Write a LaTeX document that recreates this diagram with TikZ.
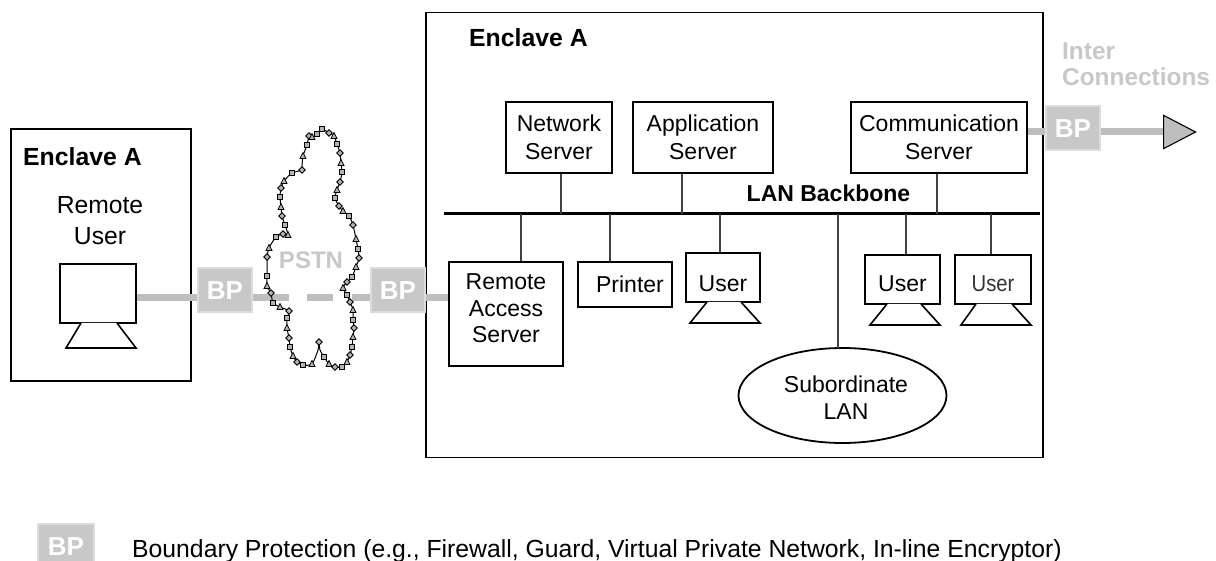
\documentclass[tikz,border=0pt]{standalone}
\usepackage{fontspec}
\setmainfont{Liberation Sans}
\usetikzlibrary{shapes.geometric}
\definecolor{bpgray}{HTML}{C8C8C8}
\definecolor{bpedge}{HTML}{DCDCDC}
\definecolor{linkgray}{HTML}{BEBEBE}
\tikzset{
  txt/.style={font=\fontsize{23}{27.5}\selectfont,align=center,inner sep=0pt},
  ltxt/.style={font=\fontsize{24.7}{31}\selectfont,align=center,inner sep=0pt},
  btxt/.style={font=\fontsize{23}{28}\selectfont\bfseries,inner sep=0pt,align=left},
  etxt/.style={font=\fontsize{24.8}{28}\selectfont\bfseries,inner sep=0pt},
  srv/.style={draw=black,line width=2pt,fill=white,inner sep=0pt,txt},
  mon/.style={draw=black,line width=1.8pt,fill=white,inner sep=0pt,txt},
  foot/.style={draw=black,line width=1.6pt,fill=white,line join=miter},
  encl/.style={draw=black,line width=1.1pt,inner sep=0pt},
  bpbox/.style={draw=bpedge,line width=2pt,fill=bpgray,text=white,inner sep=0pt,
    font=\fontsize{26}{30}\selectfont\bfseries,minimum width=54pt,minimum height=44pt},
  glink/.style={draw=linkgray,line width=7pt},
  tap/.style={draw=black!75,line width=1.3pt},
  bb/.style={draw=black,line width=3pt},
  cmark/.style={draw=black,fill=gray!60,line width=.8pt}
}
\begin{document}
\begin{tikzpicture}[x=1pt,y=-1pt]
\useasboundingbox (0,0) rectangle (1216,561);
% enclosures
\node[encl,minimum width=180pt,minimum height=252pt] (encL) at (101,255) {};
\node[encl,minimum width=617pt,minimum height=445pt] (encB) at (734.5,235) {};
% grey links
\coordinate (d1a) at (289,298);
\coordinate (d2a) at (307,298);
\coordinate (d2b) at (333,298);
\coordinate (d3a) at (352,298);
\node[mon,minimum width=76pt,minimum height=59pt] (ruser) at (98,293.5) {};
\draw[foot] (81,323) -- (66,348) -- (136,348) -- (117,323);
\node[bpbox] (bp1) at (225,290.5) {BP};
\node[bpbox] (bp2) at (398,290.5) {BP};
\node[bpbox] (bp3) at (1073,128.5) {BP};
\node[srv,minimum width=114pt,minimum height=104pt] (ras) at (506,314) {};
\node[txt] (rastxt) at (506,308) {Remote\\[-.5pt]Access\\[-2pt]Server};
\node[srv,minimum width=94pt,minimum height=45pt] (prn) at (625,284.5) {\hspace*{10pt}Printer};
\node[srv,minimum width=106pt,minimum height=71pt] (net) at (559,137.5) {Network\\Server};
\node[srv,minimum width=140pt,minimum height=71pt] (app) at (703,137.5) {Application\\Server};
\node[srv,minimum width=176pt,minimum height=71pt] (com) at (939,137.5) {Communication\\Server};
\node[mon,minimum width=74pt,minimum height=49pt] (u1) at (723,277.5) {\raisebox{-14.5pt}[0pt][0pt]{User}};
\draw[foot] (707,302) -- (690,323) -- (760,323) -- (741,302);
\node[mon,minimum width=75pt,minimum height=49pt] (u2) at (902.5,279.5) {\raisebox{-12.5pt}[0pt][0pt]{User}};
\draw[foot] (887,304) -- (870,325) -- (940,325) -- (921,304);
\node[mon,minimum width=76pt,minimum height=49pt] (u3) at (993,279.5) {\raisebox{-12.5pt}[0pt][0pt]{\color{black!80}\scalebox{.88}[1]{User}}};
\draw[foot] (976,304) -- (961,325) -- (1031,325) -- (1012,304);
\node[draw=black,line width=1.8pt,ellipse,inner sep=0pt,minimum width=208pt,minimum height=95pt] (sub) at (842.5,395.5) {};
\node[txt] (subtxt) at (846,397.5) {Subordinate\\LAN};
% backbone
\coordinate (bbW) at (444,214);
\coordinate (bbE) at (1040,214);
\draw[bb] (bbW) -- (bbE);
\foreach \n/\x in {net/561,app/682,com/937}{
  \coordinate (t\n) at (\x,214);
  \draw[tap] (t\n) -- (t\n |- \n.south);
}
\foreach \n/\x in {ras/521,prn/610,u1/720,u2/906,u3/991}{
  \coordinate (t\n) at (\x,214);
  \draw[tap] (t\n) -- (t\n |- \n.north);
}
\coordinate (tsub) at (838,214);
\coordinate (tsubE) at (838,348);
\draw[tap] (tsub) -- (tsubE);
\draw[glink] (ruser.east |- 0,298) -- (bp1.west |- 0,298);
\draw[glink] (bp1.east |- 0,298) -- (d1a);
\draw[glink] (d2a) -- (d2b);
\draw[glink] (d3a) -- (bp2.west |- 0,298);
\draw[glink] (bp2.east |- 0,298) -- (ras.west |- 0,298);
\draw[glink] (com.east |- 0,132) -- (bp3.west |- 0,132);
\node[draw=black,line width=1.1pt,fill=linkgray,isosceles triangle,isosceles triangle apex angle=55,inner sep=0pt,minimum height=32pt,minimum width=33pt,anchor=west] (tip) at (1163,132) {};
\draw[glink] (bp3.east |- 0,132) -- (tip.west);
% cloud
\draw[black,line width=1pt] plot[smooth cycle,tension=.45] coordinates {
(322,129)(329,133)(334,136)(337,144)(340,153)(341,163)(342,172)(340,182)(337,190)(335,198)(339,206)(343,211)(349,216)(353,225)(356,239)(358,249)(359,258)(356,267)(352,277)(347,282)(343,288)(347,295)(350,302)(353,310)(353,320)(354,328)(353,337)(352,347)(350,355)(347,362)(342,367)(335,367)(329,364)(324,357)(320,350)(319,342)(318,350)(312,364)(303,365)(297,362)(293,356)(290,347)(289,338)(287,328)(287,318)(289,311)(280,307)(273,303)(271,293)(267,286)(267,276)(267,257)(267,257)(269,248)(276,237)(283,234)(288,235)(285,225)(282,216)(281,207)(280,197)(281,188)(284,181)(292,173)(302,170)(302,166)(303,156)(307,145)(309,136)(312,137)(317,134)};
\foreach \px/\py/\k in {322/129/0,329/133/1,334/136/2,337/144/0,340/153/1,341/163/2,342/172/0,340/182/1,337/190/2,335/198/0,339/206/1,343/211/2,349/216/0,353/225/1,356/239/2,358/249/0,359/258/1,356/267/2,352/277/0,347/282/1,343/288/2,347/295/0,350/302/1,353/310/2,353/320/0,354/328/1,353/337/2,352/347/0,350/355/1,347/362/2,342/367/0,335/367/1,329/364/2,324/357/0,319/342/1,312/364/2,303/365/0,297/362/1,293/356/2,290/347/0,289/338/1,287/328/2,287/318/0,289/311/1,280/307/2,273/303/0,271/293/1,267/286/2,267/276/0,267/257/1,269/248/2,276/237/0,283/234/1,288/235/2,285/225/0,282/216/1,281/207/2,280/197/0,281/188/1,284/181/2,292/173/0,302/170/1,303/156/2,307/145/0,309/136/1,312/137/2,317/134/0}{
  \ifnum\k=0
    \draw[cmark] (\px-2.5,\py-2.5) rectangle (\px+2.5,\py+2.5);
  \else\ifnum\k=1
    \draw[cmark] (\px-3.3,\py) -- (\px,\py-3.3) -- (\px+3.3,\py) -- (\px,\py+3.3) -- cycle;
  \else
    \draw[cmark] (\px-3,\py+2.5) -- (\px+3,\py+2.5) -- (\px,\py-3.5) -- cycle;
  \fi\fi
}
% texts
\node[etxt,anchor=west] (t1) at (23,157) {Enclave A};
\node[ltxt] (t2) at (100,221) {Remote\\User};
\node[etxt,anchor=west] (t3) at (469,38) {Enclave A};
\node[btxt] (t4) at (828.5,193) {LAN Backbone};
\node[btxt,text=bpgray,font=\fontsize{24}{28}\selectfont\bfseries] (t5) at (311,260) {PSTN};
\node[btxt,text=bpgray,anchor=west,font=\fontsize{24.4}{26}\selectfont\bfseries] (t6) at (1062,64) {Inter\\Connections};
% legend
\node[bpbox,minimum width=56pt,minimum height=38pt,anchor=north west] (bpL) at (37,523) {\raisebox{-12.5pt}[0pt][0pt]{BP}};
\node[anchor=base west,inner sep=0pt,font=\fontsize{24.75}{28}\selectfont] (legend) at (132,557) {Boundary Protection (e.g., Firewall, Guard, Virtual Private Network, In-line Encryptor)};
\end{tikzpicture}
\end{document}
